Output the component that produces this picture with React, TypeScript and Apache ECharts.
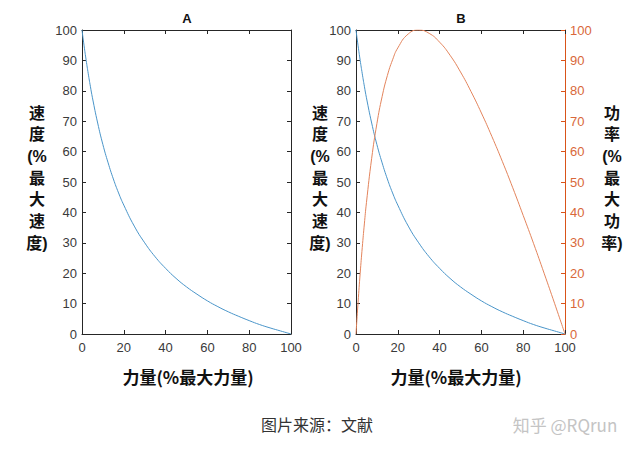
import React, { useEffect, useRef } from "react";
import * as echarts from "echarts";

const force = [0, 1, 2, 3, 4, 5, 7.5, 10, 12.5, 15, 17.5, 20, 25, 30, 35, 40, 45, 50, 55, 60, 65, 70, 75, 80, 85, 90, 95, 100];
const velocity = [100, 94.8, 90.0, 85.6, 81.5, 77.7, 69.4, 62.3, 56.3, 51.0, 46.4, 42.4, 35.5, 30.0, 25.4, 21.6, 18.3, 15.5, 13.1, 10.9, 9.0, 7.3, 5.8, 4.4, 3.1, 2.0, 1.0, 0];
const power = [0, 10.5, 20.0, 28.5, 36.2, 43.2, 57.8, 69.2, 78.1, 85.0, 90.2, 94.1, 98.7, 100, 98.9, 96.0, 91.7, 86.2, 79.8, 72.7, 65.0, 56.8, 48.1, 39.0, 29.7, 20.0, 10.1, 0];

const panelTitles = ["A", "B"];
const xAxisTitle = "力量(%最大力量)";
const velocityTitle = ["速", "度", "(%", "最", "大", "速", "度)"];
const powerTitle = ["功", "率", "(%", "最", "大", "功", "率)"];
const sourceText = "图片来源：文献";
const watermark = "知乎 @RQrun";

const DARK = "#262626";
const LABEL = "#3a3a3a";
const ORANGE = "#D95319";
const ORANGE_LABEL = "#d9683a";
const BLUE_LINE = "#4a95c9";
const ORANGE_LINE = "#e3845c";
const TICK_FONT = "Liberation Sans";
const CJK = "Noto Sans CJK SC";

export default function App() {
  const ref = useRef<HTMLDivElement>(null);
  useEffect(() => {
    if (!ref.current) return;
    const chart = echarts.init(ref.current, null, { renderer: "svg" });

    const xBase = (grid: number, pos: "bottom" | "top", labels: boolean) => ({
      type: "value",
      gridIndex: grid,
      position: pos,
      min: 0,
      max: 100,
      interval: 20,
      axisLine: { show: true, onZero: false, lineStyle: { color: DARK, width: 1 } },
      axisTick: { show: true, inside: true, length: 4, lineStyle: { color: DARK } },
      axisLabel: { show: labels, color: LABEL, fontSize: 13, fontFamily: TICK_FONT, margin: 7 },
      splitLine: { show: false },
    });
    const yBase = (grid: number, pos: "left" | "right", labels: boolean, color: string, labelColor: string) => ({
      type: "value",
      gridIndex: grid,
      position: pos,
      min: 0,
      max: 100,
      interval: 10,
      axisLine: { show: true, onZero: false, lineStyle: { color, width: 1 } },
      axisTick: { show: true, inside: true, length: 4, lineStyle: { color } },
      axisLabel: { show: labels, color: labelColor, fontSize: 13, fontFamily: TICK_FONT, margin: 5 },
      splitLine: { show: false },
    });

    const pairs = (ys: number[]) => force.map((f, i) => [f, ys[i]]);

    const vertText = (chars: string[], x: number) =>
      chars.map((c, i) => ({
        type: "text",
        x,
        y: 113 + i * 21.7,
        style: {
          text: c,
          fill: "#111",
          font: `bold 16px "${TICK_FONT}", "${CJK}"`,
          align: "center",
          verticalAlign: "middle",
          lineHeight: 19,
        },
      }));

    chart.setOption({
      animation: false,
      backgroundColor: "#ffffff",
      grid: [
        { left: 82, top: 30, width: 209, height: 304 },
        { left: 356, top: 30, width: 209, height: 304 },
      ],
      xAxis: [
        xBase(0, "bottom", true),
        xBase(0, "top", false),
        xBase(1, "bottom", true),
        xBase(1, "top", false),
      ],
      yAxis: [
        yBase(0, "left", true, DARK, LABEL),
        yBase(0, "right", false, DARK, LABEL),
        yBase(1, "left", true, DARK, LABEL),
        yBase(1, "right", true, ORANGE, ORANGE_LABEL),
      ],
      series: [
        {
          type: "line",
          xAxisIndex: 0,
          yAxisIndex: 0,
          data: pairs(velocity),
          smooth: true,
          showSymbol: false,
          lineStyle: { color: BLUE_LINE, width: 1 },
        },
        {
          type: "line",
          xAxisIndex: 2,
          yAxisIndex: 2,
          data: pairs(velocity),
          smooth: true,
          showSymbol: false,
          lineStyle: { color: BLUE_LINE, width: 1 },
        },
        {
          type: "line",
          xAxisIndex: 2,
          yAxisIndex: 3,
          data: pairs(power),
          smooth: true,
          showSymbol: false,
          lineStyle: { color: ORANGE_LINE, width: 1 },
        },
      ],
      graphic: [
        {
          type: "text",
          x: 187,
          y: 18,
          style: { text: panelTitles[0], fill: "#111", font: `bold 13px "${TICK_FONT}"`, align: "center", verticalAlign: "middle" },
        },
        {
          type: "text",
          x: 461,
          y: 18,
          style: { text: panelTitles[1], fill: "#111", font: `bold 13px "${TICK_FONT}"`, align: "center", verticalAlign: "middle" },
        },
        ...vertText(velocityTitle, 37),
        ...vertText(velocityTitle, 320),
        ...vertText(powerTitle, 612),
        {
          type: "text",
          x: 188,
          y: 376,
          style: { text: xAxisTitle, fill: "#111", font: `bold 17px "${CJK}"`, align: "center", verticalAlign: "middle" },
        },
        {
          type: "text",
          x: 456,
          y: 376,
          style: { text: xAxisTitle, fill: "#111", font: `bold 17px "${CJK}"`, align: "center", verticalAlign: "middle" },
        },
        {
          type: "text",
          x: 317,
          y: 424,
          style: { text: sourceText, fill: "#333", font: `16px "${CJK}"`, align: "center", verticalAlign: "middle" },
        },
        {
          type: "text",
          x: 565,
          y: 424,
          style: { text: watermark, fill: "#c4c4c4", font: `17px "${CJK}"`, align: "center", verticalAlign: "middle" },
        },
      ],
    });
    return () => chart.dispose();
  }, []);

  return (
    <div
      ref={ref}
      style={{ position: "absolute", left: 0, top: 0, width: 642, height: 453, background: "#fff" }}
    />
  );
}
